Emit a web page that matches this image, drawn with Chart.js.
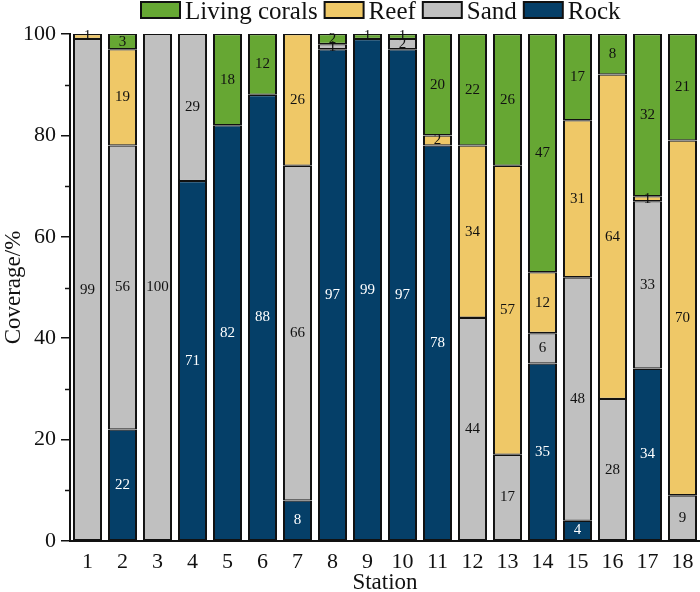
<!DOCTYPE html>
<html>
<head>
<meta charset="utf-8">
<script src="https://cdn.jsdelivr.net/npm/chart.js@4"></script>
<style>
html,body{margin:0;padding:0;background:#fff;}
#wrap{width:700px;height:592px;}
</style>
</head>
<body>
<div id="wrap"><canvas id="c" width="700" height="592"></canvas></div>
<script>
const stations = ['1','2','3','4','5','6','7','8','9','10','11','12','13','14','15','16','17','18'];
const rock  = [0,22,0,71,82,88,8,97,99,97,78,0,0,35,4,0,34,0];
const sand  = [99,56,100,29,0,0,66,1,0,2,0,44,17,6,48,28,33,9];
const reef  = [1,19,0,0,0,0,26,0,0,0,2,34,57,12,31,64,1,70];
const coral = [0,3,0,0,18,12,0,2,1,1,20,22,26,47,17,8,32,21];
const yTicks = [0,20,40,60,80,100];
const yMinor = [10,30,50,70,90];

const FONT = "'Liberation Serif', 'Times New Roman', serif";
const nz = a => a.map(v => v === 0 ? null : v);

function ds(label, data, color, textColor){
  return {
    label, data: nz(data), backgroundColor: color, borderColor: '#111',
    borderWidth: {left:2, right:2, top:1.3, bottom:1.3}, borderSkipped: false,
    barPercentage: 0.83, categoryPercentage: 1.0, textColor
  };
}

const labelPlugin = {
  id: 'segLabels',
  afterDatasetsDraw(chart){
    const ctx = chart.ctx;
    ctx.save();
    ctx.font = "15px " + FONT;
    ctx.textAlign = 'center';
    ctx.textBaseline = 'middle';
    chart.data.datasets.forEach((d, i) => {
      const meta = chart.getDatasetMeta(i);
      meta.data.forEach((el, j) => {
        const v = d.data[j];
        if (v == null) return;
        const y = (el.y + el.base) / 2;
        ctx.fillStyle = d.textColor;
        ctx.fillText(String(v), el.x, y);
      });
    });
    ctx.restore();
  },
  afterDraw(chart){
    const ctx = chart.ctx, ys = chart.scales.y;
    ctx.save();
    ctx.strokeStyle = '#111';
    ctx.lineWidth = 1.5;
    yMinor.forEach(v => {
      const py = Math.round(ys.getPixelForValue(v)) + 0.5;
      ctx.beginPath();
      ctx.moveTo(ys.right - 5, py);
      ctx.lineTo(ys.right, py);
      ctx.stroke();
    });
    // legend
    ctx.font = "25px " + FONT;
    ctx.textAlign = 'left';
    ctx.textBaseline = 'alphabetic';
    let x = 141;
    const items = chart.data.datasets.slice().reverse();
    items.forEach(d => {
      ctx.fillStyle = d.backgroundColor;
      ctx.fillRect(x, 2, 39, 16);
      ctx.lineWidth = 2;
      ctx.strokeStyle = '#111';
      ctx.strokeRect(x, 2, 39, 16);
      ctx.fillStyle = '#111';
      const tx = x + 44;
      ctx.fillText(d.label, tx, 19);
      x = tx + ctx.measureText(d.label).width + 7;
    });
    ctx.restore();
  }
};

new Chart(document.getElementById('c'), {
  type: 'bar',
  data: {
    labels: stations,
    datasets: [
      ds('Rock', rock, '#053F68', '#ffffff'),
      ds('Sand', sand, '#C0C0C0', '#111111'),
      ds('Reef', reef, '#EFC867', '#111111'),
      ds('Living corals', coral, '#66A733', '#111111')
    ]
  },
  options: {
    responsive: false,
    animation: false,
    devicePixelRatio: 1,
    layout: {padding: {left: 0, right: 0, top: 34, bottom: 0}},
    plugins: {
      legend: {display: false},
      tooltip: {enabled: false}
    },
    scales: {
      x: {
        stacked: true,
        grid: {display: false},
        border: {display: true, color: '#111', width: 2},
        ticks: {color: '#111', font: {family: FONT, size: 22}, padding: 0, maxRotation: 0, autoSkip: false},
        title: {display: true, text: 'Station', color: '#111', font: {family: FONT, size: 23}, padding: {top: 0, bottom: -5}},
        afterFit(s){ s.height = 51; }
      },
      y: {
        stacked: true,
        min: 0, max: 100,
        afterBuildTicks(s){ s.ticks = yTicks.map(v => ({value: v})); },
        grid: {display: true, drawOnChartArea: false, drawTicks: true, tickLength: 9, color: '#111', lineWidth: 1.5},
        border: {display: true, color: '#111', width: 2},
        ticks: {color: '#111', font: {family: FONT, size: 22}, padding: 5},
        title: {display: true, text: 'Coverage/%', color: '#111', font: {family: FONT, size: 23}, padding: {top: 0, bottom: 0}},
        afterFit(s){ s.width = 70; }
      }
    }
  },
  plugins: [labelPlugin]
});
</script>
</body>
</html>
